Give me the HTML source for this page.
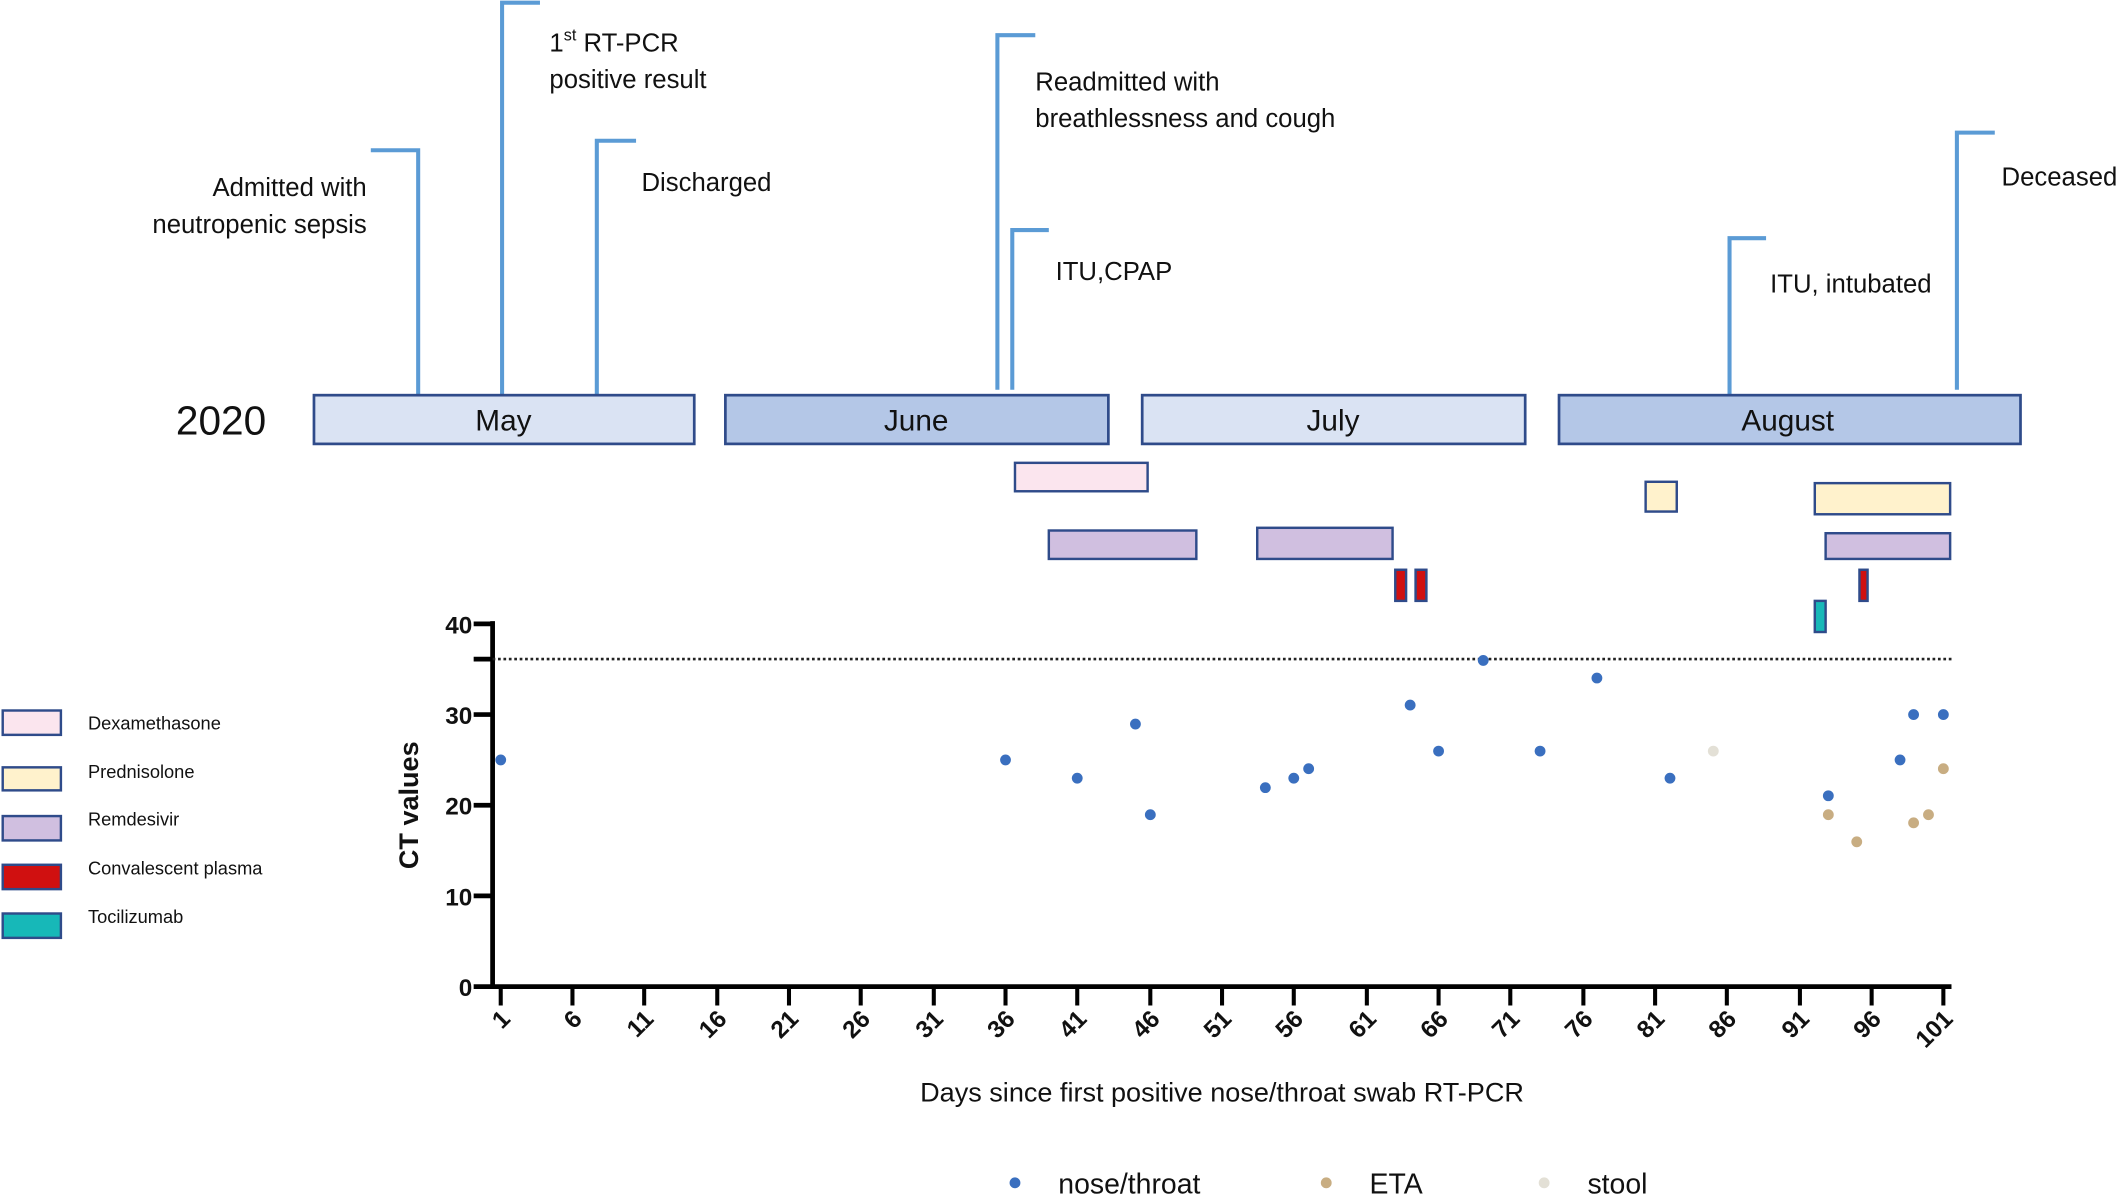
<!DOCTYPE html>
<html><head><meta charset="utf-8"><style>
html,body{margin:0;padding:0;background:#fff;}
svg{display:block;}
text{font-family:"Liberation Sans",sans-serif;fill:#111;}
</style></head><body>
<svg width="2122" height="1195" viewBox="0 0 1568 883" preserveAspectRatio="none" xmlns="http://www.w3.org/2000/svg">
<g stroke="#5b9bd5" stroke-width="3" fill="none">
<path d="M309 292V111H274"/>
<path d="M371 292V2H399"/>
<path d="M441 292V104H470"/>
<path d="M737 288V26H765"/>
<path d="M748 288V170H775"/>
<path d="M1278 292V176H1305"/>
<path d="M1446 288V98H1474"/>
</g>
<g font-size="19">
<text x="271" y="145" text-anchor="end">Admitted with</text>
<text x="271" y="172" text-anchor="end">neutropenic sepsis</text>
<text x="406" y="38">1<tspan font-size="12" dy="-8">st</tspan><tspan dy="8"> RT-PCR</tspan></text>
<text x="406" y="65">positive result</text>
<text x="474" y="141">Discharged</text>
<text x="765" y="67">Readmitted with</text>
<text x="765" y="94">breathlessness and cough</text>
<text x="780" y="207">ITU,CPAP</text>
<text x="1308" y="216">ITU, intubated</text>
<text x="1479" y="137">Deceased</text>
</g>
<text x="130" y="321" font-size="30">2020</text>
<g stroke="#2f4b8a" stroke-width="2">
<rect x="232" y="292" width="281" height="36" fill="#dae3f3"/>
<rect x="536" y="292" width="283" height="36" fill="#b4c7e7"/>
<rect x="844" y="292" width="283" height="36" fill="#dae3f3"/>
<rect x="1152" y="292" width="341" height="36" fill="#b4c7e7"/>
</g>
<g font-size="22" text-anchor="middle">
<text x="372" y="318">May</text><text x="677" y="318">June</text>
<text x="985" y="318">July</text><text x="1321" y="318">August</text>
</g>
<g stroke="#2f4b8a" stroke-width="1.8">
<rect x="750" y="342" width="98" height="21" fill="#fbe5ee"/>
<rect x="1216" y="356" width="23" height="22" fill="#fff2cc"/>
<rect x="1341" y="357" width="100" height="23" fill="#fff2cc"/>
<rect x="775" y="392" width="109" height="21" fill="#d0bfe0"/>
<rect x="929" y="390" width="100" height="23" fill="#d0bfe0"/>
<rect x="1349" y="394" width="92" height="19" fill="#d0bfe0"/>
<rect x="1031" y="421" width="8" height="23" fill="#d01010"/>
<rect x="1046" y="421" width="8" height="23" fill="#d01010"/>
<rect x="1374" y="421" width="6" height="23" fill="#d01010"/>
<rect x="1341" y="444" width="8" height="23" fill="#17b8b8"/>
<rect x="2" y="525" width="43" height="18" fill="#fbe5ee"/>
<rect x="2" y="567" width="43" height="17" fill="#fff2cc"/>
<rect x="2" y="603" width="43" height="18" fill="#d0bfe0"/>
<rect x="2" y="639" width="43" height="18" fill="#d01010"/>
<rect x="2" y="675" width="43" height="18" fill="#17b8b8"/>
</g>
<g font-size="13.5">
<text x="65" y="539">Dexamethasone</text>
<text x="65" y="575">Prednisolone</text>
<text x="65" y="610">Remdesivir</text>
<text x="65" y="646">Convalescent plasma</text>
<text x="65" y="682">Tocilizumab</text>
</g>
<g stroke="#000" stroke-width="3.5" fill="none">
<path d="M364 459V729H1442"/>
<path d="M350 461H364M350 528H364M350 595H364M350 662H364M350 729H364M350 487H364"/>
</g>
<line x1="364" y1="487" x2="1442" y2="487" stroke="#222" stroke-width="2" stroke-dasharray="2,2"/>
<g font-size="18" font-weight="bold" text-anchor="end">
<text x="349" y="468">40</text><text x="349" y="535">30</text><text x="349" y="602">20</text><text x="349" y="669">10</text><text x="349" y="736">0</text>
</g>
<text transform="translate(309,595) rotate(-90)" font-size="20" font-weight="bold" text-anchor="middle">CT values</text>
<g stroke="#000" stroke-width="3">
<path d="M370 729v14M423 729v14M476 729v14M530 729v14M583 729v14M636 729v14M690 729v14M743 729v14M796 729v14M850 729v14M903 729v14M956 729v14M1010 729v14M1063 729v14M1116 729v14M1170 729v14M1223 729v14M1276 729v14M1330 729v14M1383 729v14M1436 729v14"/>
</g>
<g font-size="18" font-weight="bold" text-anchor="end">
<text transform="translate(378,754) rotate(-45)">1</text>
<text transform="translate(431,754) rotate(-45)">6</text>
<text transform="translate(484,754) rotate(-45)">11</text>
<text transform="translate(538,754) rotate(-45)">16</text>
<text transform="translate(591,754) rotate(-45)">21</text>
<text transform="translate(644,754) rotate(-45)">26</text>
<text transform="translate(698,754) rotate(-45)">31</text>
<text transform="translate(751,754) rotate(-45)">36</text>
<text transform="translate(804,754) rotate(-45)">41</text>
<text transform="translate(858,754) rotate(-45)">46</text>
<text transform="translate(911,754) rotate(-45)">51</text>
<text transform="translate(964,754) rotate(-45)">56</text>
<text transform="translate(1018,754) rotate(-45)">61</text>
<text transform="translate(1071,754) rotate(-45)">66</text>
<text transform="translate(1124,754) rotate(-45)">71</text>
<text transform="translate(1178,754) rotate(-45)">76</text>
<text transform="translate(1231,754) rotate(-45)">81</text>
<text transform="translate(1284,754) rotate(-45)">86</text>
<text transform="translate(1338,754) rotate(-45)">91</text>
<text transform="translate(1391,754) rotate(-45)">96</text>
<text transform="translate(1444,754) rotate(-45)">101</text>
</g>
<text x="903" y="814" font-size="20" text-anchor="middle">Days since first positive nose/throat swab RT-PCR</text>
<g fill="#3a6fbf">
<circle cx="370" cy="561.5" r="4"/><circle cx="743" cy="561.5" r="4"/><circle cx="796" cy="575" r="4"/>
<circle cx="839" cy="535" r="4"/><circle cx="850" cy="602" r="4"/><circle cx="935" cy="582" r="4"/>
<circle cx="956" cy="575" r="4"/><circle cx="967" cy="568" r="4"/><circle cx="1042" cy="521" r="4"/>
<circle cx="1063" cy="555" r="4"/><circle cx="1096" cy="488" r="4"/><circle cx="1138" cy="555" r="4"/>
<circle cx="1180" cy="501" r="4"/><circle cx="1234" cy="575" r="4"/><circle cx="1351" cy="588" r="4"/>
<circle cx="1404" cy="561.5" r="4"/><circle cx="1414" cy="528" r="4"/><circle cx="1436" cy="528" r="4"/>
</g>
<g fill="#c8ad82">
<circle cx="1351" cy="602" r="4"/><circle cx="1372" cy="622" r="4"/><circle cx="1414" cy="608" r="4"/>
<circle cx="1425" cy="602" r="4"/><circle cx="1436" cy="568" r="4"/>
</g>
<circle cx="1266" cy="555" r="4" fill="#e3e0d6"/>
<circle cx="750" cy="874" r="4" fill="#3a6fbf"/>
<circle cx="980" cy="874" r="4" fill="#c8ad82"/>
<circle cx="1141" cy="874" r="4" fill="#e3e0d6"/>
<g font-size="21">
<text x="782" y="882">nose/throat</text>
<text x="1012" y="882">ETA</text>
<text x="1173" y="882">stool</text>
</g>
</svg>
</body></html>
